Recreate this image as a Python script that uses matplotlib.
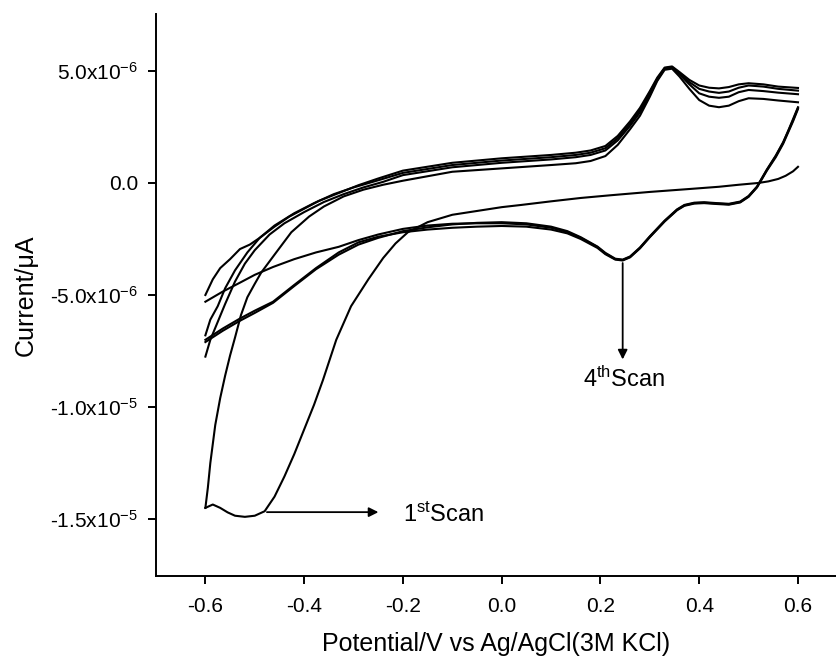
import numpy as np
import matplotlib.pyplot as plt

plt.rcParams['font.family'] = ['Liberation Sans', 'DejaVu Sans']
plt.rcParams['mathtext.default'] = 'regular'

# potentials (V) and currents (in units of 1e-6 A)
# anodic sweeps, common right-hand part
x_anodic_right = [-0.2, -0.1, 0.0, 0.1, 0.15, 0.18, 0.21, 0.235, 0.26, 0.28, 0.30, 0.315,
                  0.33, 0.345, 0.36, 0.38, 0.40, 0.42, 0.44, 0.46, 0.48, 0.50, 0.53, 0.56, 0.6]
i_right_T = [0.55, 0.9, 1.1, 1.25, 1.35, 1.45, 1.65, 2.1, 2.75, 3.35, 4.1, 4.7,
             5.15, 5.2, 4.95, 4.6, 4.35, 4.25, 4.22, 4.28, 4.4, 4.45, 4.4, 4.3, 4.24]
i_right_M1 = [0.45, 0.8, 1.0, 1.15, 1.25, 1.35, 1.55, 2.0, 2.65, 3.25, 4.05, 4.65,
              5.12, 5.17, 4.9, 4.5, 4.2, 4.08, 4.02, 4.08, 4.25, 4.35, 4.3, 4.2, 4.12]
i_right_M2 = [0.35, 0.7, 0.9, 1.05, 1.15, 1.25, 1.45, 1.9, 2.55, 3.15, 3.95, 4.6,
              5.1, 5.15, 4.85, 4.4, 4.0, 3.85, 3.8, 3.85, 4.05, 4.15, 4.1, 4.03, 3.96]
i_right_L = [0.1, 0.5, 0.65, 0.8, 0.88, 0.98, 1.2, 1.7, 2.4, 3.0, 3.85, 4.55,
             5.05, 5.1, 4.75, 4.2, 3.7, 3.45, 3.38, 3.45, 3.65, 3.78, 3.75, 3.68, 3.6]

# anodic sweeps, left-hand parts
x_an1_left = [-0.6, -0.595, -0.59, -0.58, -0.57, -0.56, -0.55, -0.54, -0.528, -0.515,
              -0.5, -0.487, -0.46, -0.426, -0.39, -0.36, -0.32, -0.28, -0.24]
i_an1_left = [-14.5, -13.6, -12.5, -10.8, -9.6, -8.6, -7.7, -6.9, -5.9, -5.1,
              -4.5, -4.0, -3.2, -2.2, -1.5, -1.05, -0.6, -0.3, -0.08]
x_anA_left = [-0.6, -0.585, -0.57, -0.55, -0.53, -0.51, -0.49, -0.46, -0.43, -0.40,
              -0.37, -0.33, -0.29, -0.25]
i_anA_left = [-5.0, -4.3, -3.8, -3.4, -2.95, -2.75, -2.45, -1.95, -1.5, -1.15,
              -0.8, -0.45, -0.1, 0.2]
x_anB_left = [-0.6, -0.59, -0.575, -0.56, -0.54, -0.515, -0.49, -0.46, -0.42, -0.38,
              -0.34, -0.3, -0.25]
i_anB_left = [-6.8, -6.1, -5.5, -4.7, -3.9, -3.1, -2.45, -1.9, -1.35, -0.9,
              -0.5, -0.2, 0.12]
x_anC_left = [-0.6, -0.59, -0.575, -0.56, -0.54, -0.52, -0.5, -0.47, -0.44, -0.4,
              -0.36, -0.32, -0.28, -0.24]
i_anC_left = [-7.75, -7.0, -6.2, -5.4, -4.4, -3.6, -3.0, -2.3, -1.8, -1.3,
              -0.85, -0.5, -0.2, 0.05]

# 1st scan cathodic sweep
x_cat1 = [0.6, 0.59, 0.575, 0.56, 0.54, 0.52, 0.48, 0.44, 0.38, 0.3, 0.22, 0.16, 0.1, 0.04,
          0.0, -0.05, -0.1, -0.15, -0.19, -0.215, -0.24, -0.27, -0.305, -0.335, -0.362,
          -0.38, -0.40, -0.42, -0.44, -0.46, -0.48, -0.50, -0.52, -0.54, -0.555, -0.57,
          -0.585, -0.6]
i_cat1 = [0.72, 0.52, 0.32, 0.18, 0.07, 0.0, -0.08, -0.17, -0.27, -0.4, -0.55, -0.67, -0.82, -0.98,
          -1.08, -1.25, -1.42, -1.75, -2.2, -2.7, -3.35, -4.3, -5.5, -7.0, -8.8,
          -9.9, -11.0, -12.1, -13.1, -14.0, -14.65, -14.85, -14.9, -14.85, -14.7, -14.5,
          -14.35, -14.5]

# later cathodic sweeps
x_cat = [0.6, 0.59, 0.58, 0.57, 0.555, 0.537, 0.517, 0.5, 0.483, 0.46, 0.436, 0.41, 0.39,
         0.37, 0.355, 0.33, 0.3, 0.28, 0.26, 0.245, 0.23, 0.21, 0.194, 0.16, 0.133, 0.1,
         0.05, 0.0, -0.05, -0.1, -0.15, -0.2, -0.25, -0.29, -0.33, -0.376, -0.42, -0.463,
         -0.5, -0.53, -0.565, -0.6]
i_cat_K1 = [3.35, 2.8, 2.3, 1.8, 1.2, 0.58, -0.18, -0.6, -0.85, -0.95, -0.92, -0.88, -0.9,
            -1.0, -1.2, -1.7, -2.4, -2.9, -3.3, -3.44, -3.4, -3.15, -2.86, -2.45, -2.19, -2.0,
            -1.85, -1.8, -1.8, -1.82, -1.9, -2.05, -2.3, -2.55, -2.85, -3.1, -3.4, -3.75,
            -4.1, -4.45, -4.85, -5.3]
i_cat_K2 = [3.3, 2.75, 2.25, 1.75, 1.15, 0.55, -0.2, -0.62, -0.87, -0.97, -0.94, -0.9, -0.92,
            -1.02, -1.22, -1.72, -2.42, -2.92, -3.32, -3.46, -3.42, -3.18, -2.9, -2.5, -2.25, -2.08,
            -1.95, -1.92, -1.95, -2.0, -2.08, -2.2, -2.4, -2.65, -3.1, -3.8, -4.55, -5.3,
            -5.7, -6.05, -6.5, -7.0]
i_cat_K3 = [3.38, 2.85, 2.32, 1.82, 1.22, 0.6, -0.16, -0.58, -0.83, -0.93, -0.9, -0.86, -0.88,
            -0.98, -1.18, -1.68, -2.38, -2.88, -3.28, -3.42, -3.38, -3.12, -2.84, -2.42, -2.15, -1.95,
            -1.8, -1.75, -1.78, -1.85, -1.98, -2.15, -2.45, -2.75, -3.2, -3.85, -4.6, -5.35,
            -5.8, -6.15, -6.6, -7.1]

x_ticks = [-0.6, -0.4, -0.2, 0.0, 0.2, 0.4, 0.6]
x_ticklabels = ['-0.6', '-0.4', '-0.2', '0.0', '0.2', '0.4', '0.6']
y_ticks = [-1.5e-5, -1.0e-5, -5.0e-6, 0.0, 5.0e-6]
y_ticklabels = ['-1.5x10$^{-5}$', '-1.0x10$^{-5}$', '-5.0x10$^{-6}$', '0.0', '5.0x10$^{-6}$']


def main():
    fig = plt.figure(figsize=(8.37, 6.62), dpi=100)
    ax = fig.add_axes([156 / 837, 1 - 576 / 662, 1 - 156 / 837, (576 - 14) / 662])

    anodic = [(x_an1_left, i_an1_left, i_right_L),
              (x_anA_left, i_anA_left, i_right_T),
              (x_anB_left, i_anB_left, i_right_M1),
              (x_anC_left, i_anC_left, i_right_M2)]
    for xl, il, ir in anodic:
        x = np.array(xl + x_anodic_right)
        y = np.array(il + ir) * 1e-6
        ax.plot(x, y, color='black', lw=1.5)

    ax.plot(x_cat1, np.array(i_cat1) * 1e-6, color='black', lw=1.5)
    for ic in (i_cat_K1, i_cat_K2, i_cat_K3):
        ax.plot(x_cat, np.array(ic) * 1e-6, color='black', lw=1.5)

    ax.set_xlim(-0.7, 0.679)
    ax.set_ylim(-1.754e-5, 7.54e-6)
    ax.set_xticks(x_ticks)
    ax.set_xticklabels(x_ticklabels)
    ax.set_yticks(y_ticks)
    ax.set_yticklabels(y_ticklabels)

    ax.spines['top'].set_visible(False)
    ax.spines['right'].set_visible(False)
    for s in ('left', 'bottom'):
        ax.spines[s].set_linewidth(1.4)
    ax.tick_params(axis='both', direction='out', length=6, width=1.4, labelsize=15)
    ax.tick_params(axis='x', pad=9)
    ax.tick_params(axis='y', pad=7)

    ax.set_xlabel('Potential/V vs Ag/AgCl(3M KCl)', fontsize=18, labelpad=12)
    ax.set_ylabel('Current/\u03bcA', fontsize=18, labelpad=9)

    # scan annotations
    ax.annotate('', xy=(0.245, -8.0e-6), xytext=(0.245, -3.45e-6),
                arrowprops=dict(arrowstyle='-|>', color='black', lw=1.3, mutation_scale=14))
    ax.text(0.248, -9.1e-6, '4$^{th}$Scan', fontsize=17, ha='center', va='baseline')
    ax.annotate('', xy=(-0.244, -1.469e-5), xytext=(-0.481, -1.469e-5),
                arrowprops=dict(arrowstyle='-|>', color='black', lw=1.3, mutation_scale=14))
    ax.text(-0.2, -1.513e-5, '1$^{st}$Scan', fontsize=17, ha='left', va='baseline')

    fig.savefig('out.png', dpi=100)


if __name__ == '__main__':
    main()
